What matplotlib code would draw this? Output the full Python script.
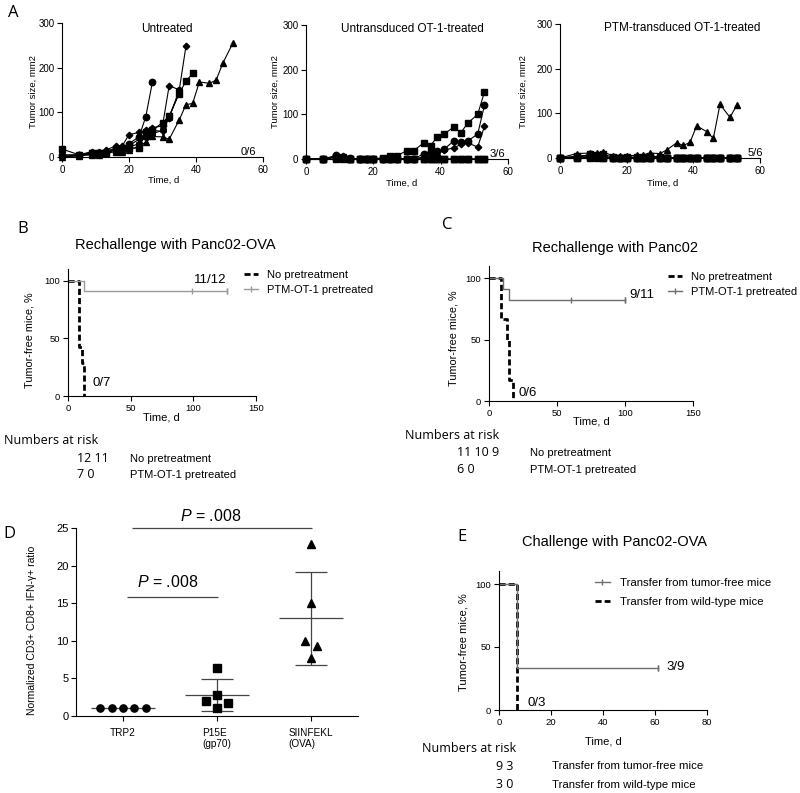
import matplotlib.pyplot as plt
import numpy as np

plt.rcParams['font.family'] = ['Liberation Sans', 'DejaVu Sans']
plt.rcParams['mathtext.fontset'] = 'custom'
plt.rcParams['mathtext.it'] = 'Liberation Sans:italic'
plt.rcParams['mathtext.rm'] = 'Liberation Sans'

# ---------------- data ----------------
# panel A: tumor growth (days, mm2)
days_u = [0, 5, 9, 11, 13, 16, 18, 20, 23, 25, 27, 30, 32, 35, 37, 39, 41, 44, 46, 48, 51]
untreated = {
    'o': [5, 5, 10, 10, 12, 20, 20, 30, 45, 90, 168],
    'D': [0, 5, 12, 12, 15, 25, 25, 50, 55, 60, 65, 70, 160, 150, 248],
    's': [18, 5, 8, 10, 10, 15, 15, 20, 20, 55, 60, 77, 92, 142, 170, 187],
    '^': [0, 3, 5, 5, 8, 12, 12, 15, 25, 33, 46, 45, 40, 83, 117, 120, 168, 165, 172, 210, 255],
    'v': [0, 3, 8, 8, 10, 18, 18, 25, 40, 50, 60, 57, 90, 145],
    'h': [2, 4, 6, 7, 9, 16, 16, 22, 30, 45, 52, 60, 88, 150],
}
days_t = [0, 5, 9, 11, 13, 16, 18, 20, 23, 25, 27, 30, 32, 35, 37, 39, 41, 44, 46, 48, 51, 53]
untransduced = [
    ('s', [0, 0, 5, 3, 0, 0, 0, 0, 3, 7, 7, 19, 19, 36, 30, 50, 56, 72, 59, 80, 100, 150]),
    ('o', [0, 0, 8, 5, 2, 0, 0, 0, 0, 0, 0, 0, 0, 12, 17, 18, 22, 41, 37, 40, 56, 120]),
    ('D', [0, 0, 6, 6, 1, 0, 0, 0, 0, 0, 0, 0, 0, 5, 12, 10, 20, 25, 33, 36, 27, 73]),
    ('s', [0, 0, 4, 4, 1, 0, 0, 0, 0, 0, 0, 0, 0, 0, 0, 0, 0, 0, 0, 0, 0, 0]),
    ('^', [0, 0, 3, 2, 0, 0, 0, 0, 0, 0, 0, 0, 0, 0, 0, 0, 0, 0, 0, 0, 0, 0]),
    ('s', [0, 0, 0, 0, 0, 0, 0, 0, 0, 0, 0, 0, 0, 0, 0, 0, 0, 0, 0, 0, 0, 0]),
]
ptm_transduced = [
    ('^', [0, 10, 11, 12, 13, 5, 4, 5, 6, 7, 11, 10, 18, 34, 28, 35, 72, 59, 44, 120, 91, 118]),
    ('o', [0, 3, 6, 5, 4, 0, 0, 0, 0, 0, 0, 0, 0, 0, 0, 0, 0, 0, 0, 0, 0, 0]),
    ('s', [0, 2, 8, 7, 8, 2, 1, 2, 2, 3, 4, 3, 0, 0, 0, 0, 0, 0, 0, 0, 0, 0]),
    ('s', [0, 4, 4, 3, 2, 0, 0, 0, 0, 0, 0, 0, 0, 0, 0, 0, 0, 0, 0, 0, 0, 0]),
    ('s', [0, 0, 2, 2, 1, 0, 0, 0, 0, 0, 0, 0, 0, 0, 0, 0, 0, 0, 0, 0, 0, 0]),
    ('s', [0, 0, 0, 0, 0, 0, 0, 0, 0, 0, 0, 0, 0, 0, 0, 0, 0, 0, 0, 0, 0, 0]),
]
a_titles = ['Untreated', 'Untransduced OT-1-treated', 'PTM-transduced OT-1-treated']
a_fracs = ['0/6', '3/6', '5/6']

# panel B: rechallenge Panc02-OVA
b_nopre_t = [0, 9, 11, 13]
b_nopre_s = [100, 42.9, 28.6, 0]
b_ptm_t = [0, 13, 127]
b_ptm_s = [100, 91.7, 91.7]
b_cens_t = [99, 127]
b_cens_s = [91.7, 91.7]

# panel C: rechallenge Panc02
c_nopre_t = [0, 9, 13, 15, 18]
c_nopre_s = [100, 66.7, 50, 16.7, 0]
c_ptm_t = [0, 10, 15, 100]
c_ptm_s = [100, 90.9, 81.8, 81.8]
c_cens_t = [60, 100]
c_cens_s = [81.8, 81.8]

# panel D: normalized ratios
d_cats = ['TRP2', 'P15E\n(gp70)', 'SIINFEKL\n(OVA)']
d_trp2 = [1.0, 1.0, 1.0, 1.0, 1.0]
d_trp2_dx = [-0.24, -0.12, 0, 0.12, 0.24]
d_p15e = [6.43, 2.0, 2.83, 1.04, 1.7]
d_p15e_dx = [0, -0.12, 0, 0, 0.12]
d_siin = [22.9, 15.0, 10.0, 9.3, 7.7]
d_siin_dx = [0, 0, -0.06, 0.06, 0]

# panel E: challenge Panc02-OVA after transfer
e_free_t = [0, 7, 61]
e_free_s = [100, 33.3, 33.3]
e_cens_t = [61]
e_cens_s = [33.3]
e_wt_t = [0, 7]
e_wt_s = [100, 0]

W, H = 800, 793
fig = plt.figure(figsize=(8, 7.93), dpi=100)


def box(x0, y0, x1, y1):
    return [x0 / W, 1 - y1 / H, (x1 - x0) / W, (y1 - y0) / H]


def P(x, y):
    return x / W, 1 - y / H


def txt(x, y, s, size, **kw):
    kw.setdefault('ha', 'center')
    kw.setdefault('va', 'center')
    fig.text(x / W, 1 - y / H, s, fontsize=size, **kw)


def style(ax, fs):
    for s in ['top', 'right']:
        ax.spines[s].set_visible(False)
    for s in ['left', 'bottom']:
        ax.spines[s].set_linewidth(0.8)
    ax.tick_params(direction='out', length=3.5, width=0.8, labelsize=fs, pad=2)


letter_font = ['Open Sans', 'DejaVu Sans']

# ---------------- panel A ----------------
a_boxes = [(62, 23, 263, 157), (306, 25, 508, 159), (560, 24, 760, 158)]
a_sets = [[(m, v) for m, v in untreated.items()], untransduced, ptm_transduced]
a_days = [days_u, days_t, days_t]
for bx, series, days in zip(a_boxes, a_sets, a_days):
    ax = fig.add_axes(box(*bx))
    style(ax, 7)
    ax.set_xlim(0, 60)
    ax.set_ylim(0, 300)
    ax.set_xticks([0, 20, 40, 60])
    ax.set_yticks([0, 100, 200, 300])
    for m, v in series:
        ms = 3.3 if m == 'D' else 4.6
        ax.plot(days[:len(v)], v, color='black', lw=0.8, marker=m, ms=ms, clip_on=False)

txt(13, 13, 'A', 12, family=letter_font)
title_pos = [(167, 29), (412, 29), (682, 28)]
frac_pos = [(248, 152), (497, 154), (755, 153)]
for (x, y), t in zip(title_pos, a_titles):
    txt(x, y, t, 8.5)
for (x, y), t in zip(frac_pos, a_fracs):
    txt(x, y, t, 8)
for x in [33, 275, 523]:
    txt(x, 92, 'Tumor size, mm2', 6.8, rotation=90)
for x, y in [(164, 180), (402, 183), (663, 183)]:
    txt(x, y, 'Time, d', 6.8)


def km_axes(bx, xmax, xticks):
    ax = fig.add_axes(box(*bx))
    style(ax, 6.8)
    ax.set_xlim(0, xmax)
    ax.set_ylim(0, 110)
    ax.set_xticks(xticks)
    ax.set_yticks([0, 50, 100])
    return ax


dash = (0, (2.2, 1.1))

# ---------------- panel B ----------------
ax = km_axes((68, 269.5, 256, 396), 150, [0, 50, 100, 150])
h1, = ax.step(b_nopre_t, b_nopre_s, where='post', color='black', lw=2, ls=dash, clip_on=False)
h2, = ax.step(b_ptm_t, b_ptm_s, where='post', color='#9a9a9a', lw=1, clip_on=False,
              marker='|', markevery=[2], ms=5)
ax.plot(b_cens_t, b_cens_s, ls='none', marker='|', ms=5, color='#9a9a9a', mew=1)
ax.legend([h1, h2], ['No pretreatment', 'PTM-OT-1 pretreated'], loc='upper left',
          bbox_to_anchor=P(244, 270), bbox_transform=fig.transFigure, frameon=False,
          fontsize=8, handlelength=1.3, handletextpad=0.8, borderpad=0, borderaxespad=0,
          labelspacing=0.45)
txt(23, 229, 'B', 12, family=letter_font)
txt(175, 245, 'Rechallenge with Panc02-OVA', 10.5)
txt(210, 280, '11/12', 9.5)
txt(102, 383, '0/7', 9.5)
txt(30, 340, 'Tumor-free mice, %', 7.8, rotation=90)
txt(161, 418, 'Time, d', 8)
txt(4, 441, 'Numbers at risk', 9, ha='left', family=letter_font)
txt(77, 459, '12 11', 9, ha='left', family=letter_font)
txt(77, 475, '7 0', 9, ha='left', family=letter_font)
txt(130, 459, 'No pretreatment', 8, ha='left')
txt(130, 475, 'PTM-OT-1 pretreated', 8, ha='left')

# ---------------- panel C ----------------
ax = km_axes((489, 265.7, 693, 401), 150, [0, 50, 100, 150])
h1, = ax.step(c_nopre_t, c_nopre_s, where='post', color='black', lw=2, ls=dash, clip_on=False)
h2, = ax.step(c_ptm_t, c_ptm_s, where='post', color='#6e6e6e', lw=1, clip_on=False,
              marker='|', markevery=[3], ms=5)
ax.plot(c_cens_t, c_cens_s, ls='none', marker='|', ms=5, color='#6e6e6e', mew=1)
ax.legend([h1, h2], ['No pretreatment', 'PTM-OT-1 pretreated'], loc='upper left',
          bbox_to_anchor=P(668, 272), bbox_transform=fig.transFigure, frameon=False,
          fontsize=8, handlelength=1.3, handletextpad=0.8, borderpad=0, borderaxespad=0,
          labelspacing=0.45)
txt(447, 225, 'C', 12, family=letter_font)
txt(615, 248, 'Rechallenge with Panc02', 10.5)
txt(642, 295, '9/11', 9.5)
txt(528, 393, '0/6', 9.5)
txt(453, 338, 'Tumor-free mice, %', 7.8, rotation=90)
txt(591, 422, 'Time, d', 8)
txt(405, 436, 'Numbers at risk', 9, ha='left', family=letter_font)
txt(457, 453, '11 10 9', 9, ha='left', family=letter_font)
txt(457, 470, '6 0', 9, ha='left', family=letter_font)
txt(530, 453, 'No pretreatment', 8, ha='left')
txt(530, 470, 'PTM-OT-1 pretreated', 8, ha='left')

# ---------------- panel D ----------------
ax = fig.add_axes(box(76, 528, 358, 716))
style(ax, 8)
ax.set_xlim(-0.5, 2.5)
ax.set_ylim(0, 25)
ax.set_yticks([0, 5, 10, 15, 20, 25])
ax.set_xticks([0, 1, 2])
ax.set_xticklabels(d_cats, multialignment='left', fontsize=7.2)
ax.tick_params(axis='x', pad=5)
groups = [(d_trp2, d_trp2_dx, 'o', 5.2), (d_p15e, d_p15e_dx, 's', 5.6), (d_siin, d_siin_dx, '^', 6)]
for i, (vals, dx, m, ms) in enumerate(groups):
    vals = np.array(vals)
    mean = vals.mean()
    sd = vals.std(ddof=1)
    ax.plot(i + np.array(dx), vals, ls='none', marker=m, ms=ms, color='black', clip_on=False, zorder=3)
    ax.hlines(mean, i - 0.34, i + 0.34, color='#444444', lw=0.9)
    if sd > 0:
        ax.vlines(i, mean - sd, mean + sd, color='#444444', lw=0.9)
        ax.hlines([mean - sd, mean + sd], i - 0.17, i + 0.17, color='#444444', lw=0.9)
ax.hlines(25, 0.1, 2.01, color='#444444', lw=0.9, clip_on=False)
ax.hlines(15.8, 0.04, 1.01, color='#444444', lw=0.9, clip_on=False)
ax.text(0.93, 26.6, r'$P$ = .008', fontsize=11.5, ha='center', va='center', clip_on=False)
ax.text(0.48, 17.8, r'$P$ = .008', fontsize=11.5, ha='center', va='center', clip_on=False)
txt(9, 534, 'D', 12, family=letter_font)
txt(32, 630, 'Normalized CD3+ CD8+ IFN-γ+ ratio', 7.5, rotation=90)

# ---------------- panel E ----------------
ax = km_axes((499, 571.4, 707, 710), 80, [0, 20, 40, 60, 80])
h2, = ax.step(e_wt_t, e_wt_s, where='post', color='black', lw=2, ls=dash, clip_on=False)
h1, = ax.step(e_free_t, e_free_s, where='post', color='#6e6e6e', lw=1, clip_on=False,
              marker='|', markevery=[2], ms=5)
ax.plot(e_cens_t, e_cens_s, ls='none', marker='|', ms=5, color='#6e6e6e', mew=1)
ax.legend([h1, h2], ['Transfer from tumor-free mice', 'Transfer from wild-type mice'],
          loc='upper left', bbox_to_anchor=P(595, 578), bbox_transform=fig.transFigure,
          frameon=False, fontsize=8.2, handlelength=1.3, handletextpad=0.9, borderpad=0,
          borderaxespad=0, labelspacing=0.8)
txt(462, 537, 'E', 12, family=letter_font)
txt(615, 542, 'Challenge with Panc02-OVA', 10.5)
txt(676, 667, '3/9', 9.5)
txt(537, 703, '0/3', 9.5)
txt(463, 642, 'Tumor-free mice, %', 8, rotation=90)
txt(603, 741, 'Time, d', 8)
txt(422, 748, 'Numbers at risk', 9, ha='left', family=letter_font)
txt(496, 766, '9 3', 9, ha='left', family=letter_font)
txt(496, 785, '3 0', 9, ha='left', family=letter_font)
txt(552, 766, 'Transfer from tumor-free mice', 8.2, ha='left')
txt(552, 785, 'Transfer from wild-type mice', 8.2, ha='left')

fig.savefig('out.png', dpi=100)
